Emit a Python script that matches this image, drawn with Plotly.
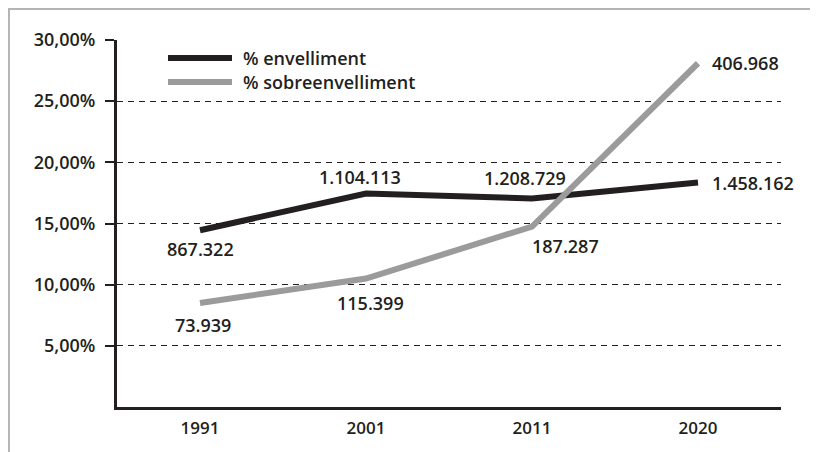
import plotly.graph_objects as go

years = ["1991", "2001", "2011", "2020"]
series_names = ["% envelliment", "% sobreenvelliment"]
envelliment_pct = [14.45, 17.45, 17.05, 18.35]
sobreenvelliment_pct = [8.5, 10.5, 14.75, 28.1]
envelliment_labels = ["867.322", "1.104.113", "1.208.729", "1.458.162"]
sobreenvelliment_labels = ["73.939", "115.399", "187.287", "406.968"]
ytick_vals = [5, 10, 15, 20, 25, 30]
ytick_text = ["5,00%", "10,00%", "15,00%", "20,00%", "25,00%", "30,00%"]

INK = "#231f20"
GRAY = "#9b9b9b"
FONT = "Open Sans"
colors = [INK, GRAY]

xpos = list(range(len(years)))

fig = go.Figure()
for name, vals, col in zip(series_names, [envelliment_pct, sobreenvelliment_pct], colors):
    fig.add_trace(go.Scatter(x=xpos, y=vals, mode="lines", name=name, showlegend=False,
                             line=dict(color=col, width=6)))

# label offsets (styling)
env_shift = [(0, -19), (-6, 17), (-7, 20), (12, 0)]
sob_shift = [(3, -22), (4, -24), (33, -19), (12, 0)]
env_anchor = ["center", "center", "center", "left"]
sob_anchor = ["center", "center", "center", "left"]

lab_font = dict(family=FONT, size=18, color=INK, weight=600)
for x, y, t, (dx, dy), a in zip(xpos, envelliment_pct, envelliment_labels, env_shift, env_anchor):
    fig.add_annotation(x=x, y=y, text=t, showarrow=False, xshift=dx, yshift=dy, xanchor=a,
                       font=lab_font)
for x, y, t, (dx, dy), a in zip(xpos, sobreenvelliment_pct, sobreenvelliment_labels, sob_shift, sob_anchor):
    fig.add_annotation(x=x, y=y, text=t, showarrow=False, xshift=dx, yshift=dy, xanchor=a,
                       font=lab_font)

# legend drawn in paper space
leg_rows = [0.951, 0.8856]
for name, col, yy in zip(series_names, colors, leg_rows):
    fig.add_shape(type="line", xref="paper", yref="paper", x0=0.0768, x1=0.1732, y0=yy, y1=yy,
                  line=dict(color=col, width=6))
    fig.add_annotation(xref="paper", yref="paper", x=0.187, y=yy, text=name, showarrow=False,
                       xanchor="left", yanchor="middle", font=lab_font)

# outer frame
fig.add_shape(type="rect", xref="paper", yref="paper", x0=-0.1627, y0=-0.5, x1=2, y1=1.0845,
              line=dict(color="#b4b4b4", width=2), layer="below")

fig.update_layout(
    width=810, height=444,
    margin=dict(l=109, r=37, t=32, b=45),
    paper_bgcolor="white", plot_bgcolor="white",
    font=dict(family=FONT, size=17, color=INK, weight=600),
    showlegend=False,
    xaxis=dict(range=[-0.5, len(years) - 0.5], tickvals=xpos, ticktext=years,
               showgrid=False, showline=True, linecolor=INK, linewidth=3,
               ticks="", tickfont=dict(size=17), zeroline=False, ticklabelstandoff=4),
    yaxis=dict(range=[0, 30], tickvals=ytick_vals, ticktext=ytick_text, showgrid=True,
               gridcolor=INK, gridwidth=1, griddash="6px,5px", showline=True, linecolor=INK,
               linewidth=3, ticks="outside", ticklen=9, tickwidth=2, tickcolor=INK,
               zeroline=False, tickfont=dict(size=18), ticklabelstandoff=6),
)

fig.write_html("out.html")
